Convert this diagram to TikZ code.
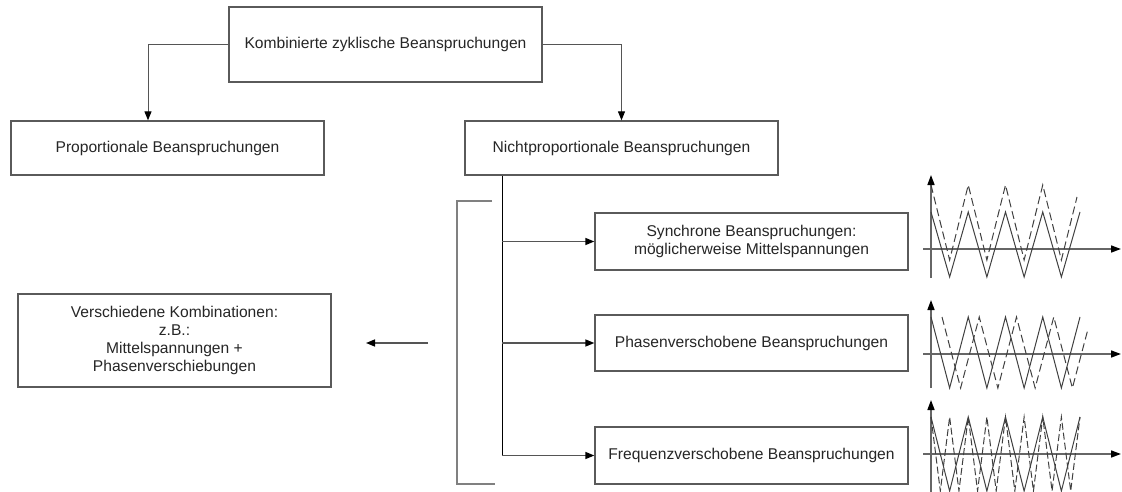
\documentclass[tikz,border=0pt]{standalone}
\usepackage{fontspec}
\setmainfont{Liberation Sans}
\usetikzlibrary{arrows.meta}
\definecolor{txt}{HTML}{262626}
\definecolor{frame}{HTML}{5A5A5A}
\definecolor{conn}{HTML}{555555}
\definecolor{axis}{HTML}{666666}
\definecolor{wave}{HTML}{404040}
\definecolor{brk}{HTML}{808080}
\tikzset{
  box/.style={draw=frame, line width=1.3pt, fill=white, inner sep=0pt,
    minimum width=313pt, text=txt, align=center,
    font=\fontsize{15.6}{18}\selectfont},
  link/.style={draw=conn, line width=1pt, -{Triangle[length=9pt,width=7pt,color=black]}},
  branch/.style={draw=conn, line width=1.5pt, -{Triangle[length=9pt,width=7pt,color=black]}},
  trunk/.style={draw=black, line width=1pt},
  bracketline/.style={draw=brk, line width=1.5pt},
  axisline/.style={draw=axis, line width=1.5pt, -{Triangle[length=10pt,width=7pt,color=black]}},
  solidwave/.style={draw=wave, line width=1pt, line join=miter},
  dashwave/.style={draw=wave, line width=1pt, dash pattern=on 8pt off 4pt},
}
\begin{document}
\begin{tikzpicture}[x=1pt,y=-1pt]
\useasboundingbox (0,0) rectangle (1122,492);

% boxes
\node[box, minimum height=75pt] (top) at (385.5,44.5) {Kombinierte zyklische Beanspruchungen};
\node[box, minimum height=54pt] (prop) at (167.5,148) {Proportionale Beanspruchungen};
\node[box, minimum height=54pt] (nonprop) at (621.5,148) {Nichtproportionale Beanspruchungen};
\node[box, minimum height=57pt] (sync) at (751.5,241.5) {Synchrone Beanspruchungen:\\möglicherweise Mittelspannungen};
\node[box, minimum height=56pt] (phase) at (751.5,343) {Phasenverschobene Beanspruchungen};
\node[box, minimum height=57pt] (freq) at (751.5,455.5) {Frequenzverschobene Beanspruchungen};
\node[box, minimum height=93pt] (combo) at (174.5,340.5) {Verschiedene Kombinationen:\\z.B.:\\Mittelspannungen +\\Phasenverschiebungen};

% top-level split
\draw[link] (top.west) -| ([xshift=-19.5pt]prop.north);
\draw[link] (top.east) -| (nonprop.north);

% trunk with three branches
\coordinate (tx) at (502,0);
\draw[trunk] (tx |- nonprop.south) -- (tx |- freq.west);
\draw[branch] (tx |- sync.west) -- (sync.west);
\draw[branch] (tx |- phase.west) -- (phase.west);
\draw[branch] (tx |- freq.west) -- (freq.west);

% bracket grouping the three cases
\draw[bracketline] (492,201) -- (457,201) -- (457,484) -- (495,484);

% arrow towards the combinations
\coordinate (la) at (428,343);
\coordinate (lb) at (366,343);
\draw[branch] (la) -- (lb);

% sketch 1: synchronous, with mean stress
\draw[axisline] (931,278) -- (931,175);
\draw[axisline] (923,249) -- (1121,249);
\draw[solidwave] (931,212) -- (949.625,277) -- (968.25,212) -- (986.875,277) -- (1005.5,212)
  -- (1024.125,277) -- (1042.75,212) -- (1061.375,277) -- (1080,212);
\draw[dashwave] (931,185) -- (949.625,260) -- (968.25,185) -- (986.875,260) -- (1005.5,185)
  -- (1024.125,260) -- (1042.75,185) -- (1061.375,260) -- (1077,197);

% sketch 2: phase shifted
\draw[axisline] (931,388) -- (931,300);
\draw[axisline] (923,354) -- (1121,354);
\draw[solidwave] (931,317) -- (949.625,388) -- (968.25,317) -- (986.875,388) -- (1005.5,317)
  -- (1024.125,388) -- (1042.75,317) -- (1061.375,388) -- (1080,317);
\draw[dashwave] (942,317) -- (960.625,388) -- (979.25,317) -- (997.875,388) -- (1016.5,317)
  -- (1035.125,388) -- (1053.75,317) -- (1072.375,388) -- (1088,329);

% sketch 3: frequency shifted
\draw[axisline] (931,492) -- (931,400);
\draw[axisline] (923,454) -- (1121,454);
\draw[solidwave] (931,417) -- (949.625,491) -- (968.25,417) -- (986.875,491) -- (1005.5,417)
  -- (1024.125,491) -- (1042.75,417) -- (1061.375,491) -- (1080,417);
\draw[dashwave, dash pattern=on 7pt off 3pt] (931,417)
  -- (940.3125,491) -- (949.625,417) -- (958.9375,491) -- (968.25,417)
  -- (977.5625,491) -- (986.875,417) -- (996.1875,491) -- (1005.5,417)
  -- (1014.8125,491) -- (1024.125,417) -- (1033.4375,491) -- (1042.75,417)
  -- (1052.0625,491) -- (1061.375,417) -- (1070.6875,491) -- (1080,417);
\end{tikzpicture}
\end{document}
